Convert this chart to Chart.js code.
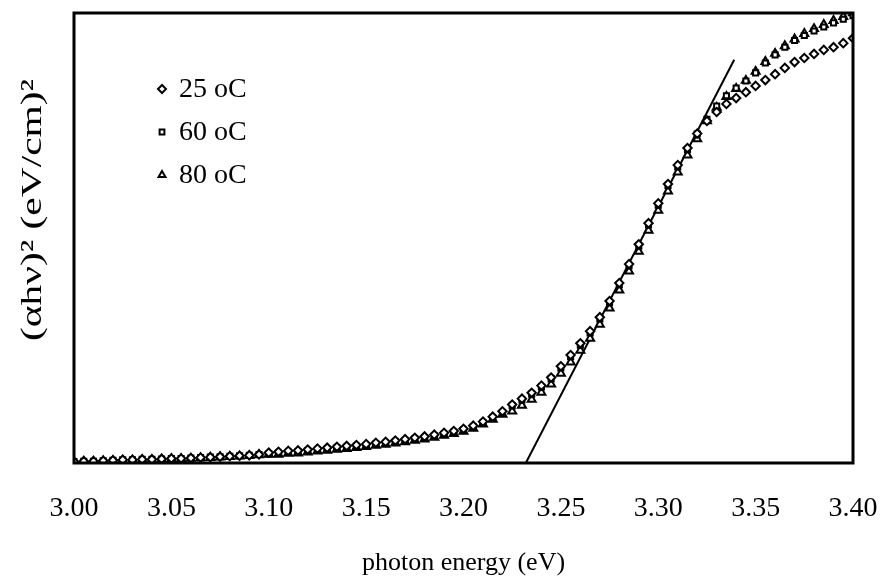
<!DOCTYPE html>
<html>
<head>
<meta charset="utf-8">
<script src="https://cdn.jsdelivr.net/npm/chart.js@4"></script>
<style>
  body { margin: 0; background: #fff; }
  #absChart { display: block; }
</style>
</head>
<body>
<canvas id="absChart" width="883" height="579"></canvas>
<script>
// photon energy (eV), one point every 0.005 eV
const energy = [
  3.000, 3.005, 3.010, 3.015, 3.020, 3.025, 3.030, 3.035, 3.040, 3.045,
  3.050, 3.055, 3.060, 3.065, 3.070, 3.075, 3.080, 3.085, 3.090, 3.095,
  3.100, 3.105, 3.110, 3.115, 3.120, 3.125, 3.130, 3.135, 3.140, 3.145,
  3.150, 3.155, 3.160, 3.165, 3.170, 3.175, 3.180, 3.185, 3.190, 3.195,
  3.200, 3.205, 3.210, 3.215, 3.220, 3.225, 3.230, 3.235, 3.240, 3.245,
  3.250, 3.255, 3.260, 3.265, 3.270, 3.275, 3.280, 3.285, 3.290, 3.295,
  3.300, 3.305, 3.310, 3.315, 3.320, 3.325, 3.330, 3.335, 3.340, 3.345,
  3.350, 3.355, 3.360, 3.365, 3.370, 3.375, 3.380, 3.385, 3.390, 3.395,
  3.400
];

// (alpha h nu)^2, arbitrary units (axis has no numbers)
const abs25 = [
  0.3, 0.4, 0.4, 0.5, 0.6, 0.7, 0.7, 0.8, 0.8, 0.9,
  1.0, 1.0, 1.1, 1.2, 1.3, 1.4, 1.5, 1.6, 1.7, 1.9,
  2.3, 2.5, 2.7, 2.8, 3.0, 3.2, 3.4, 3.6, 3.8, 4.0,
  4.2, 4.5, 4.7, 5.0, 5.3, 5.6, 5.9, 6.3, 6.7, 7.1,
  7.6, 8.3, 9.2, 10.3, 11.5, 13.0, 14.3, 15.6, 17.2, 19.0,
  21.5, 24.0, 26.6, 29.3, 32.4, 36.0, 40.0, 44.2, 48.6, 53.3,
  57.7, 62.0, 66.2, 70.0, 73.2, 76.0, 78.0, 79.8, 81.1, 82.4,
  83.8, 85.1, 86.4, 87.8, 89.1, 90.0, 90.9, 91.8, 92.4, 93.3,
  94.4
];

const abs60 = [
  0.3, 0.4, 0.4, 0.5, 0.6, 0.7, 0.7, 0.8, 0.8, 0.9,
  1.0, 1.0, 1.1, 1.2, 1.3, 1.4, 1.5, 1.6, 1.7, 1.9,
  2.0, 2.2, 2.4, 2.5, 2.7, 2.9, 3.1, 3.3, 3.5, 3.7,
  3.9, 4.2, 4.4, 4.7, 5.0, 5.3, 5.6, 6.0, 6.4, 6.8,
  7.3, 8.0, 8.9, 10.0, 11.2, 12.7, 14.0, 15.3, 16.9, 18.7,
  21.1, 23.6, 26.2, 28.9, 32.0, 35.6, 39.6, 43.8, 48.2, 52.9,
  57.3, 61.6, 65.8, 69.6, 73.1, 76.4, 79.3, 81.6, 83.3, 84.9,
  86.7, 88.9, 90.7, 92.4, 93.9, 95.0, 96.0, 96.9, 97.8, 98.6,
  99.4
];

const abs80 = [
  0.2, 0.3, 0.3, 0.4, 0.5, 0.6, 0.6, 0.7, 0.7, 0.8,
  0.9, 0.9, 1.0, 1.1, 1.2, 1.3, 1.4, 1.5, 1.6, 1.8,
  1.9, 1.9, 2.1, 2.2, 2.4, 2.6, 2.8, 3.0, 3.2, 3.4,
  3.6, 3.9, 4.1, 4.4, 4.7, 5.0, 5.3, 5.7, 6.1, 6.5,
  7.0, 7.7, 8.6, 9.7, 10.8, 11.5, 12.8, 14.1, 15.7, 17.5,
  19.9, 22.4, 25.0, 27.7, 30.8, 34.4, 38.4, 42.6, 47.0, 51.7,
  56.1, 60.4, 64.6, 68.4, 72.0, 76.0, 79.0, 81.4, 83.2, 85.0,
  87.0, 89.2, 91.0, 92.7, 94.2, 95.4, 96.5, 97.4, 98.3, 99.2,
  100.0
];

// straight-line fit to the absorption edge
const fitX = [3.232, 3.339];
const fitY = [0, 89.6];

const seriesLabels = ["25 oC", "60 oC", "80 oC"];
const seriesStyles = ["rectRot", "rect", "triangle"];
const xTicks = [3.00, 3.05, 3.10, 3.15, 3.20, 3.25, 3.30, 3.35, 3.40];

const xTitle = "photon energy (eV)";
const yTitle = "(\u03b1h\u03bd)\u00b2 (eV/cm)\u00b2";

const serif = "'Liberation Serif', 'DejaVu Serif', serif";

const markerRadius = { rectRot: 4.2, rect: 3.6, triangle: 4.6 };

function toPoints(xs, ys) {
  return xs.map((x, i) => ({ x: x, y: ys[i] }));
}

function markerSet(label, ys, style) {
  return {
    label: label,
    data: toPoints(energy, ys),
    showLine: false,
    pointStyle: style,
    pointRadius: markerRadius[style],
    pointBorderWidth: 2,
    pointBorderColor: "#000",
    pointBackgroundColor: "#fff"
  };
}

// box round the plot area
const framePlugin = {
  id: "frame",
  afterDraw(chart) {
    const { ctx, chartArea: a } = chart;
    ctx.save();
    ctx.strokeStyle = "#000";
    ctx.lineWidth = 3;
    ctx.strokeRect(a.left, a.top, a.right - a.left, a.bottom - a.top);
    ctx.restore();
  }
};

// rotated y title, stretched a little like the scanned original
const yTitlePlugin = {
  id: "yTitle",
  afterDraw(chart) {
    const ctx = chart.ctx;
    ctx.save();
    ctx.font = "30px " + serif;
    ctx.fillStyle = "#000";
    ctx.textAlign = "center";
    ctx.textBaseline = "middle";
    const w = ctx.measureText(yTitle).width;
    ctx.translate(33, 210);
    ctx.rotate(-Math.PI / 2);
    ctx.scale(262 / w, 1);
    ctx.fillText(yTitle, 0, 0);
    ctx.restore();
  }
};

// legend inside the plot, top-left
const innerLegend = {
  id: "innerLegend",
  afterDraw(chart) {
    const ctx = chart.ctx;
    ctx.save();
    ctx.font = "28px " + serif;
    ctx.textBaseline = "middle";
    ctx.textAlign = "left";
    seriesLabels.forEach((label, i) => {
      const y = 89 + i * 43;
      ctx.strokeStyle = "#000";
      ctx.fillStyle = "#fff";
      ctx.lineWidth = 2;
      Chart.helpers.drawPoint(ctx, {
        pointStyle: seriesStyles[i],
        radius: seriesStyles[i] === "rect" ? 3.4 : 4,
        rotation: 0,
        borderWidth: 2
      }, 162, y);
      ctx.fillStyle = "#000";
      ctx.fillText(label, 179, y + 1);
    });
    ctx.restore();
  }
};

new Chart(document.getElementById("absChart"), {
  type: "scatter",
  data: {
    datasets: [
      markerSet(seriesLabels[0], abs25, seriesStyles[0]),
      markerSet(seriesLabels[1], abs60, seriesStyles[1]),
      markerSet(seriesLabels[2], abs80, seriesStyles[2]),
      {
        label: "fit",
        data: toPoints(fitX, fitY),
        showLine: true,
        pointRadius: 0,
        borderColor: "#000",
        borderWidth: 2
      }
    ]
  },
  options: {
    responsive: false,
    animation: false,
    layout: { padding: { left: 74, right: 30, top: 13, bottom: 0 } },
    plugins: {
      legend: { display: false },
      tooltip: { enabled: false }
    },
    scales: {
      x: {
        type: "linear",
        min: 3.0,
        max: 3.4,
        afterBuildTicks(scale) {
          scale.ticks = xTicks.map(v => ({ value: v }));
        },
        afterFit(scale) {
          scale.height = 116;
          scale.paddingLeft = 0;
          scale.paddingRight = 0;
        },
        grid: { display: false, drawTicks: false },
        border: { display: false },
        ticks: {
          color: "#000",
          padding: 29,
          font: { family: serif, size: 28 },
          callback: v => Number(v).toFixed(2)
        },
        title: {
          display: true,
          text: xTitle,
          color: "#000",
          font: { family: serif, size: 26 },
          padding: { top: 0, bottom: 0 }
        }
      },
      y: {
        display: false,
        min: 0,
        max: 100
      }
    }
  },
  plugins: [framePlugin, yTitlePlugin, innerLegend]
});
</script>
</body>
</html>
